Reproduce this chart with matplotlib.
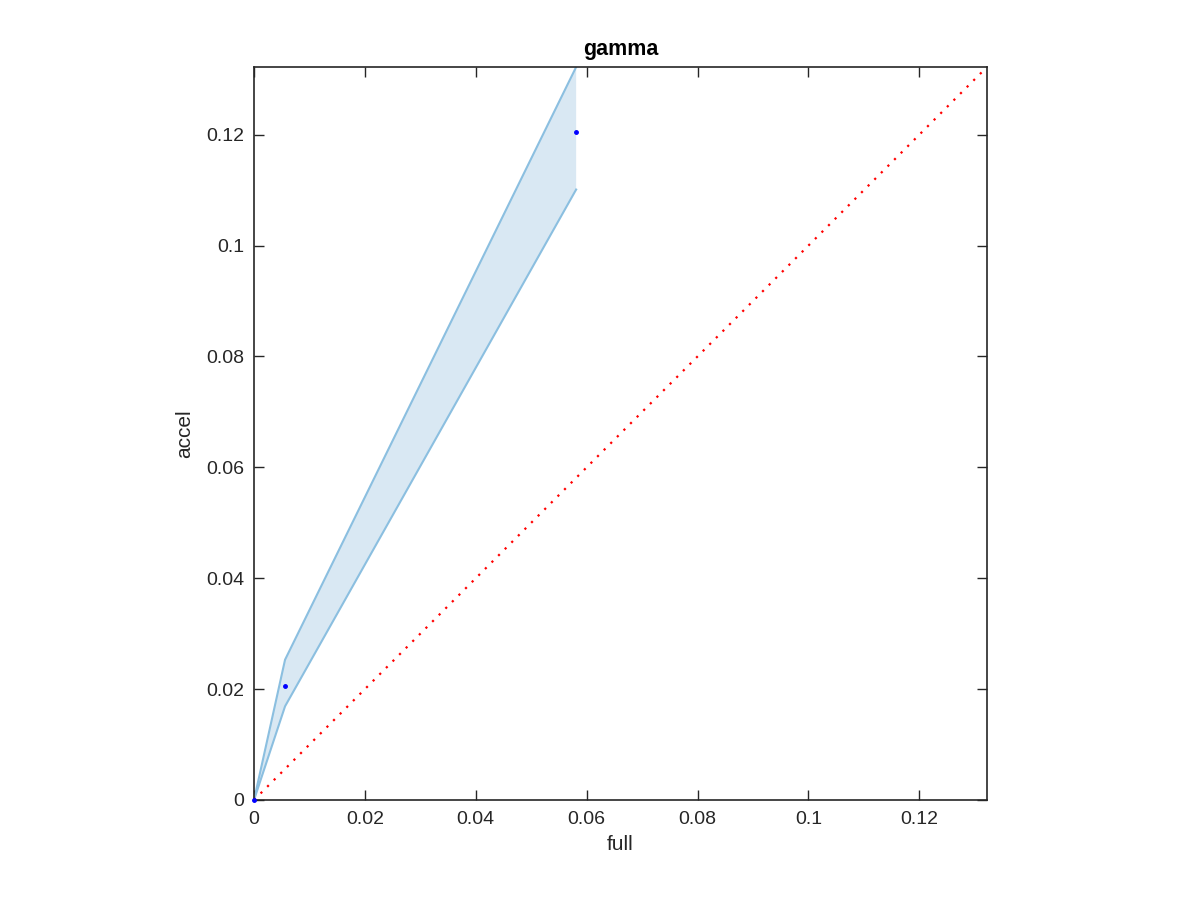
import numpy as np
import matplotlib
matplotlib.use("Agg")
import matplotlib.pyplot as plt

# values
full = [0.0, 0.0056, 0.0581]
accel = [0.0, 0.0206, 0.1204]
accel_hi = [0.0, 0.0253, 0.1322]
accel_lo = [0.0, 0.0169, 0.1101]
ticks = [0, 0.02, 0.04, 0.06, 0.08, 0.1, 0.12]
tick_labels = ["0", "0.02", "0.04", "0.06", "0.08", "0.1", "0.12"]

plt.rcParams['font.family'] = ['Liberation Sans', 'DejaVu Sans']

fig = plt.figure(figsize=(12, 9), dpi=100)
ax = fig.add_axes([254/1200, 100/900, 733/1200, 733/900])

lim = max(accel_hi)
ax.fill_between(full, accel_lo, accel_hi, facecolor='#d9e8f3', edgecolor='none')
ax.plot(full, accel_hi, color='#8bbfe0', lw=1.5)
ax.plot(full, accel_lo, color='#8bbfe0', lw=1.5)
ax.plot([0, lim], [0, lim], color='red', lw=1.6, linestyle=(0, (1, 3.2)))
ax.plot(full, accel, '.', color='blue', ms=5, zorder=5, clip_on=False)

ax.set_xlim(0, lim)
ax.set_ylim(0, lim)
ax.set_xticks(ticks)
ax.set_xticklabels(tick_labels)
ax.set_yticks(ticks)
ax.set_yticklabels(tick_labels)
ax.tick_params(direction='in', length=7, width=1, colors='#262626', labelsize=14,
               top=True, right=True)
ax.tick_params(axis='x', pad=8)
ax.tick_params(axis='y', pad=7)
for s in ax.spines.values():
    s.set_color('#262626')
    s.set_linewidth(1.2)

ax.set_xlabel("full", fontsize=15, color='#262626', labelpad=5)
ax.set_ylabel("accel", fontsize=15, color='#262626', labelpad=9)
ax.set_title("gamma", fontsize=15.5, fontweight='bold', pad=9)

fig.savefig("out.png", dpi=100)
